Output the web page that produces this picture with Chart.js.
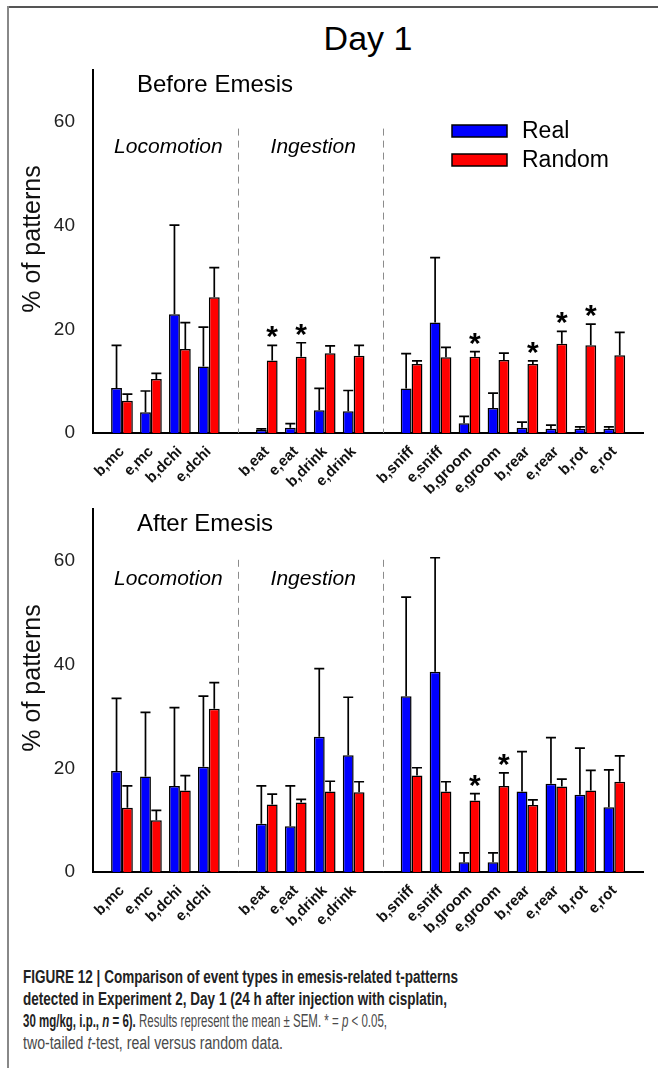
<!DOCTYPE html>
<html><head><meta charset="utf-8">
<script src="https://cdn.jsdelivr.net/npm/chart.js@4.4.1/dist/chart.umd.min.js"></script>
<style>
html,body{margin:0;padding:0;background:#fff;}
body{width:658px;height:1068px;position:relative;overflow:hidden;font-family:"Liberation Sans",Arial,sans-serif;}
#frameTop{position:absolute;left:8px;top:6px;width:650px;height:2px;background:#555;}
#frameLeft{position:absolute;left:7px;top:6px;width:2px;height:1062px;background:#888;}
#day{position:absolute;left:268px;width:200px;text-align:center;top:21px;font-size:34px;line-height:34px;color:#000;}
canvas{position:absolute;left:0;}
#c1{top:0}
#c2{top:439px}
#cap{position:absolute;left:23px;top:966px;font-size:18px;line-height:22px;}
#cap .ln{white-space:nowrap;transform-origin:0 0;height:22px;}
#cap span{display:inline-block;}
.b{font-weight:bold;color:#222}
.r{color:#4a4a4a}
</style></head><body>
<div id="frameTop"></div><div id="frameLeft"></div>
<div id="day">Day 1</div>
<canvas id="c1" width="658" height="495"></canvas>
<canvas id="c2" width="658" height="495"></canvas>
<div id="cap">
<div class="ln"><span class="b">FIGURE 12 | Comparison of event types in emesis-related t-patterns</span></div>
<div class="ln"><span class="b">detected in Experiment 2, Day 1 (24 h after injection with cisplatin,</span></div>
<div class="ln"><span><span class="b">30 mg/kg, i.p., <i>n</i> = 6).</span><span class="r">&nbsp;Results represent the mean ± SEM. * = <i>p</i> &lt; 0.05,</span></span></div>
<div class="ln"><span class="r">two-tailed <i>t</i>-test, real versus random data.</span></div>
</div>
<script>
const categories = ['', 'b,mc','e,mc','b,dchi','e,dchi', '', 'b,eat','e,eat','b,drink','e,drink', '', 'b,sniff','e,sniff','b,groom','e,groom','b,rear','e,rear','b,rot','e,rot', ''];
const seriesNames = ['Real', 'Random'];
const seriesColors = ['#0000ff', '#ff0000'];
const yTicks = [0, 20, 40, 60];

const beforeReal      = [null, 8.7, 4.0, 22.9, 12.8, null, 0.6, 1.0, 4.4, 4.2, null, 8.6, 21.3, 1.9, 4.8, 1.0, 0.8, 0.8, 0.8, null];
const beforeRealSem   = [null, 8.2, 4.1, 17.2, 7.6, null, 0.2, 0.8, 4.2, 4.0, null, 6.7, 12.5, 1.3, 2.9, 1.1, 0.7, 0.4, 0.4, null];
const beforeRandom    = [null, 6.2, 10.4, 16.2, 26.2, null, 14.0, 14.7, 15.4, 14.9, null, 13.3, 14.6, 14.7, 14.1, 13.3, 17.2, 16.9, 15.0, null];
const beforeRandomSem = [null, 1.3, 1.1, 5.1, 5.7, null, 2.9, 2.7, 1.4, 2.0, null, 0.6, 1.9, 1.0, 1.3, 0.6, 2.4, 4.1, 4.4, null];
const beforeSignificant = ['b,eat','e,eat','b,groom','b,rear','e,rear','b,rot'];

const afterReal      = [null, 19.5, 18.4, 16.6, 20.3, null, 9.3, 8.8, 26.1, 22.5, null, 33.9, 38.6, 1.9, 1.9, 15.5, 17.0, 14.9, 12.5, null];
const afterRealSem   = [null, 14.0, 12.4, 15.1, 13.6, null, 7.3, 7.8, 13.1, 11.2, null, 19.1, 22.0, 1.8, 1.8, 7.7, 8.9, 9.0, 7.2, null];
const afterRandom    = [null, 12.4, 10.0, 15.7, 31.5, null, 13.0, 13.4, 15.5, 15.4, null, 18.6, 15.5, 13.8, 16.6, 12.9, 16.5, 15.7, 17.4, null];
const afterRandomSem = [null, 4.2, 1.9, 2.9, 5.0, null, 2.0, 0.6, 2.0, 2.0, null, 1.5, 1.9, 1.3, 2.5, 1.0, 1.4, 3.9, 5.0, null];
const afterSignificant = ['b,groom','e,groom'];

const groupLabels = ['Locomotion', 'Ingestion'];
const groupSpans = [['b,mc','e,dchi'], ['b,eat','e,drink']];

const annotate = {
  id: 'annotate',
  afterDatasetsDraw(chart, args, o) {
    const ctx = chart.ctx, xs = chart.scales.x, ys = chart.scales.y, ca = chart.chartArea;
    ctx.save();
    // dashed separators at blank slots
    ctx.strokeStyle = '#8c8c8c'; ctx.lineWidth = 1; ctx.setLineDash([7, 5]);
    categories.forEach((c, i) => {
      if (c === '' && i > 0 && i < categories.length - 1) {
        const px = Math.round(xs.getPixelForValue(i)) + 0.5;
        ctx.beginPath(); ctx.moveTo(px, ys.getPixelForValue(o.sepTop)); ctx.lineTo(px, ys.getPixelForValue(0)); ctx.stroke();
      }
    });
    ctx.setLineDash([]);
    // error bars
    ctx.strokeStyle = '#000'; ctx.lineWidth = 1.7;
    chart.data.datasets.forEach((ds, d) => {
      const meta = chart.getDatasetMeta(d);
      meta.data.forEach((el, i) => {
        const v = ds.data[i]; if (v == null) return;
        const top = ys.getPixelForValue(v + ds.sem[i]);
        ctx.beginPath();
        ctx.moveTo(el.x, el.y); ctx.lineTo(el.x, top);
        ctx.moveTo(el.x - 5, top); ctx.lineTo(el.x + 5, top);
        ctx.stroke();
      });
    });
    // significance asterisks above Random bars
    const rds = chart.data.datasets[1], rmeta = chart.getDatasetMeta(1);
    ctx.fillStyle = '#000'; ctx.font = 'bold 30px "Liberation Sans", Arial'; ctx.textAlign = 'center'; ctx.textBaseline = 'alphabetic';
    o.significant.forEach(lbl => {
      const i = categories.indexOf(lbl);
      const top = ys.getPixelForValue(rds.data[i] + rds.sem[i]);
      ctx.fillText('*', rmeta.data[i].x, top + 1);
    });
    // group labels
    ctx.font = 'italic 21px "Liberation Sans", Arial'; ctx.textBaseline = 'middle';
    groupLabels.forEach((g, k) => {
      const a = xs.getPixelForValue(categories.indexOf(groupSpans[k][0]));
      const b = xs.getPixelForValue(categories.indexOf(groupSpans[k][1]));
      ctx.fillText(g, (a + b) / 2 + 3, ys.getPixelForValue(o.groupY));
    });
    // panel title
    ctx.textAlign = 'left'; ctx.font = '24px "Liberation Sans", Arial';
    ctx.fillText(o.panel, ca.left + 44, ca.top + 15);
    // y axis title
    ctx.save();
    ctx.translate(33, ca.top + 169); ctx.rotate(-Math.PI / 2);
    ctx.textAlign = 'center'; ctx.font = '25px "Liberation Sans", Arial'; ctx.fillStyle = '#111';
    ctx.fillText('% of patterns', 0, 0);
    ctx.restore();
    // legend
    if (o.legend) {
      ctx.font = '23px "Liberation Sans", Arial'; ctx.textAlign = 'left'; ctx.textBaseline = 'middle';
      chart.data.datasets.forEach((ds, d) => {
        const cy = ca.top + 61 + d * 29;
        ctx.fillStyle = ds.backgroundColor; ctx.fillRect(452, cy - 6, 55, 12);
        ctx.strokeStyle = '#000'; ctx.lineWidth = 1.5; ctx.strokeRect(452, cy - 6, 55, 12);
        ctx.fillStyle = '#000'; ctx.fillText(ds.label, 522, cy + 1);
      });
    }
    ctx.restore();
  }
};

function makeChart(id, panel, real, realSem, rand, randSem, significant, legend, sepTop, groupY) {
  return new Chart(document.getElementById(id), {
    type: 'bar',
    data: {
      labels: categories,
      datasets: [
        { label: seriesNames[0], data: real, sem: realSem, backgroundColor: seriesColors[0], borderColor: '#000', borderWidth: 1.5 },
        { label: seriesNames[1], data: rand, sem: randSem, backgroundColor: seriesColors[1], borderColor: '#000', borderWidth: 1.5 }
      ]
    },
    options: {
      responsive: false, animation: false,
      layout: { padding: { top: 70, right: 8, left: 0, bottom: 0 } },
      datasets: { bar: { categoryPercentage: 0.75, barPercentage: 1 } },
      plugins: { legend: { display: false }, tooltip: { enabled: false },
        annotate: { panel, significant, legend, sepTop, groupY } },
      scales: {
        x: {
          offset: false,
          grid: { display: false },
          border: { display: true, color: '#000', width: 2 },
          ticks: { autoSkip: false, maxRotation: 45, minRotation: 45, padding: 2, color: '#111',
                   font: { family: '"Liberation Sans", Arial', size: 15, weight: 'bold' } },
          afterFit(s) { s.height = 62; }
        },
        y: {
          min: 0, max: 70,
          grid: { display: false },
          border: { display: true, color: '#000', width: 2 },
          ticks: { padding: 10, color: '#222', font: { family: '"Liberation Sans", Arial', size: 19 } },
          afterBuildTicks(s) { s.ticks = yTicks.map(v => ({ value: v })); },
          afterFit(s) { s.width = 93; }
        }
      }
    },
    plugins: [annotate]
  });
}

makeChart('c1', 'Before Emesis', beforeReal, beforeRealSem, beforeRandom, beforeRandomSem, beforeSignificant, true, 58.7, 55.2);
makeChart('c2', 'After Emesis', afterReal, afterRealSem, afterRandom, afterRandomSem, afterSignificant, false, 60.2, 56.5);

// fit caption lines to the condensed widths of the original
const capTargets = [435, 424, 364, 260];
document.querySelectorAll('#cap .ln').forEach((ln, k) => {
  const w = ln.firstElementChild.getBoundingClientRect().width;
  ln.style.transform = 'scaleX(' + (capTargets[k] / w) + ')';
});
</script>
</body></html>
